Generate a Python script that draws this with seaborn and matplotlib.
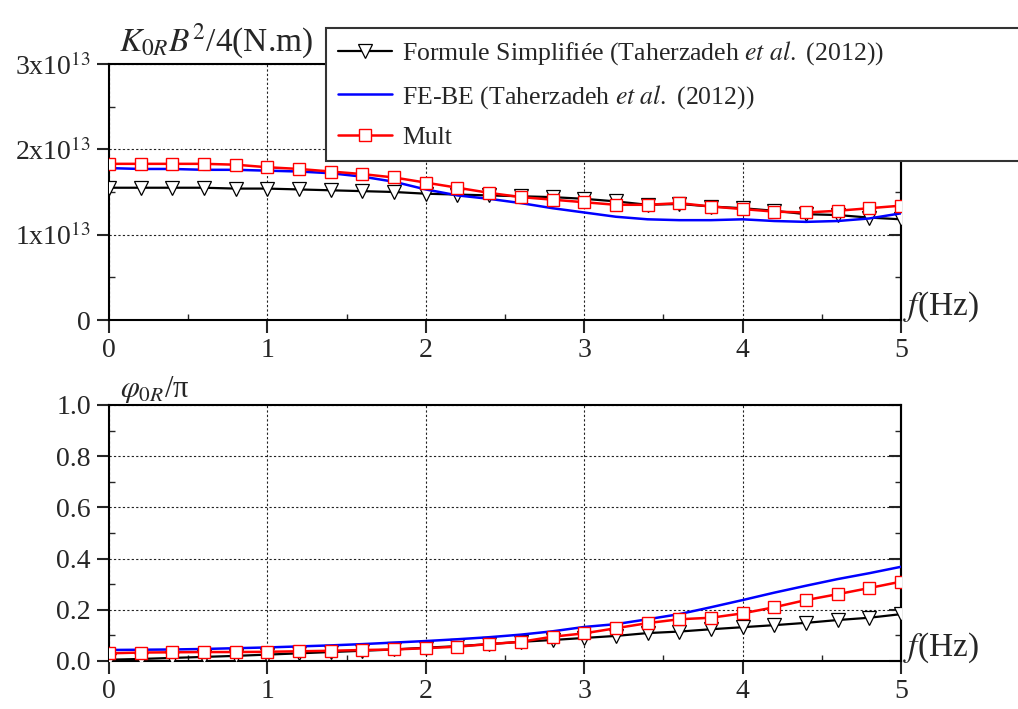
import numpy as np
import pandas as pd
import seaborn as sns
import matplotlib.pyplot as plt
from matplotlib.ticker import MultipleLocator, FixedLocator

# frequency grid (Hz)
freq = [0.0, 0.2, 0.4, 0.6, 0.8, 1.0, 1.2, 1.4, 1.6, 1.8, 2.0, 2.2, 2.4, 2.6, 2.8,
        3.0, 3.2, 3.4, 3.6, 3.8, 4.0, 4.2, 4.4, 4.6, 4.8, 5.0]

# K0R B^2/4 in units of 1e13 N.m
k_simpl = [1.55, 1.55, 1.55, 1.55, 1.54, 1.54, 1.53, 1.52, 1.51, 1.50, 1.48, 1.47, 1.46, 1.45,
           1.44, 1.42, 1.39, 1.35, 1.36, 1.33, 1.31, 1.28, 1.24, 1.23, 1.20, 1.18]
k_febe = [1.78, 1.77, 1.77, 1.76, 1.76, 1.75, 1.74, 1.72, 1.68, 1.62, 1.53, 1.46, 1.42, 1.37,
          1.31, 1.26, 1.21, 1.18, 1.17, 1.17, 1.18, 1.16, 1.15, 1.16, 1.19, 1.25]
k_mult = [1.83, 1.83, 1.83, 1.83, 1.82, 1.79, 1.77, 1.74, 1.71, 1.67, 1.61, 1.55, 1.49, 1.44,
          1.41, 1.38, 1.35, 1.35, 1.37, 1.33, 1.30, 1.27, 1.26, 1.28, 1.31, 1.34]

# phi0R / pi
p_simpl = [0.005, 0.008, 0.012, 0.016, 0.020, 0.025, 0.030, 0.035, 0.040, 0.045, 0.052, 0.058,
           0.066, 0.075, 0.082, 0.090, 0.098, 0.109, 0.115, 0.124, 0.132, 0.140, 0.149, 0.160,
           0.169, 0.183]
p_febe = [0.043, 0.044, 0.045, 0.047, 0.050, 0.053, 0.057, 0.061, 0.066, 0.072, 0.078, 0.085,
          0.093, 0.103, 0.116, 0.133, 0.144, 0.163, 0.183, 0.210, 0.238, 0.267, 0.294, 0.320,
          0.343, 0.368]
p_mult = [0.030, 0.033, 0.034, 0.035, 0.035, 0.036, 0.038, 0.040, 0.043, 0.045, 0.050, 0.056,
          0.066, 0.075, 0.095, 0.108, 0.128, 0.148, 0.163, 0.169, 0.186, 0.210, 0.238, 0.261,
          0.285, 0.310]

lab_simpl = r'Formule Simplifiée (Taherzadeh $\mathit{et\ al.}$ (2012))'
lab_febe = r'FE-BE (Taherzadeh $\mathit{et\ al.}$ (2012))'
lab_mult = 'Mult'

sns.set_style('ticks')
plt.rcParams['font.family'] = ['Liberation Serif', 'DejaVu Serif']
plt.rcParams['mathtext.fontset'] = 'stix'
plt.rcParams['axes.linewidth'] = 1.5

fig = plt.figure(figsize=(10.18, 7.09), dpi=100)
ax1 = fig.add_axes([109/1018, 1-320/709, 792/1018, 256/709])
ax2 = fig.add_axes([109/1018, 1-661/709, 792/1018, 256/709])

def draw(ax, ys):
    s, fb, m = ys
    sns.lineplot(x=freq, y=s, ax=ax, color='black', lw=1.6, marker='v', ms=10,
                 mfc='white', mec='black', mew=0.9, label=lab_simpl, zorder=3)
    sns.lineplot(x=freq, y=fb, ax=ax, color='#0000ff', lw=1.8, label=lab_febe, zorder=4)
    sns.lineplot(x=freq, y=m, ax=ax, color='#ff0000', lw=1.8, marker='s', ms=8,
                 mfc='white', mec='#ff0000', mew=1.0, label=lab_mult, zorder=5)

def style(ax):
    ax.set_xlim(0, 5)
    ax.xaxis.set_major_locator(MultipleLocator(1))
    ax.xaxis.set_minor_locator(MultipleLocator(0.5))
    ax.grid(True, which='major', color='#222222', ls=(0, (2, 2)), lw=0.8)
    ax.tick_params(which='major', direction='out', length=9, width=1.5, labelsize=20, pad=4)
    ax.tick_params(which='minor', direction='in', length=4, width=1.0)
    for sp in ax.spines.values():
        sp.set_visible(True)
        sp.set_color('black')
    ax.set_xlabel('')
    ax.set_ylabel('')
    sec = ax.secondary_yaxis('right')
    sec.tick_params(which='major', direction='in', length=9, width=1.5, labelright=False)
    sec.tick_params(which='minor', direction='in', length=4, width=1.0)
    ax.text(1.003, 0.05, r'$f$(Hz)', transform=ax.transAxes, fontsize=24,
            ha='left', va='center')
    return sec

draw(ax1, (k_simpl, k_febe, k_mult))
draw(ax2, (p_simpl, p_febe, p_mult))

ax1.set_ylim(0, 3)
ax1.yaxis.set_major_locator(FixedLocator([0, 1, 2, 3]))
ax1.yaxis.set_minor_locator(MultipleLocator(0.5))
s1 = style(ax1)
s1.yaxis.set_major_locator(FixedLocator([0, 1, 2, 3]))
s1.yaxis.set_minor_locator(MultipleLocator(0.5))
ax1.set_yticks([0, 1, 2, 3], ['0', r'1x10$^{13}$', r'2x10$^{13}$', r'3x10$^{13}$'])
ax1.text(0.012, 1.01, r'$K_{\mathrm{0}R}B^2$/4(N.m)', transform=ax1.transAxes,
         fontsize=24, ha='left', va='bottom')

ax2.set_ylim(0, 1)
ax2.yaxis.set_major_locator(MultipleLocator(0.2))
ax2.yaxis.set_minor_locator(MultipleLocator(0.1))
ax2.yaxis.set_major_formatter(plt.FormatStrFormatter('%.1f'))
s2 = style(ax2)
s2.yaxis.set_major_locator(MultipleLocator(0.2))
s2.yaxis.set_minor_locator(MultipleLocator(0.1))
ax2.text(0.014, 1.0, r'$\varphi_{\mathrm{0}R}$/π', transform=ax2.transAxes,
         fontsize=22, ha='left', va='bottom')

handles, labels = ax1.get_legend_handles_labels()
ax1.get_legend().remove()
ax2.get_legend().remove()
leg = fig.legend(handles, labels, loc='upper left',
                 bbox_to_anchor=(326/1018, 1-158/709, 0.72, 130/709),
                 mode='expand', borderaxespad=0, fontsize=18.5, frameon=True,
                 fancybox=False, borderpad=0.45, labelspacing=0.6,
                 handlelength=2.1, handletextpad=0.4)
leg.get_frame().set_edgecolor('#333333')
leg.get_frame().set_linewidth(1.5)
leg.get_frame().set_alpha(1)

fig.savefig('out.png', dpi=100)
